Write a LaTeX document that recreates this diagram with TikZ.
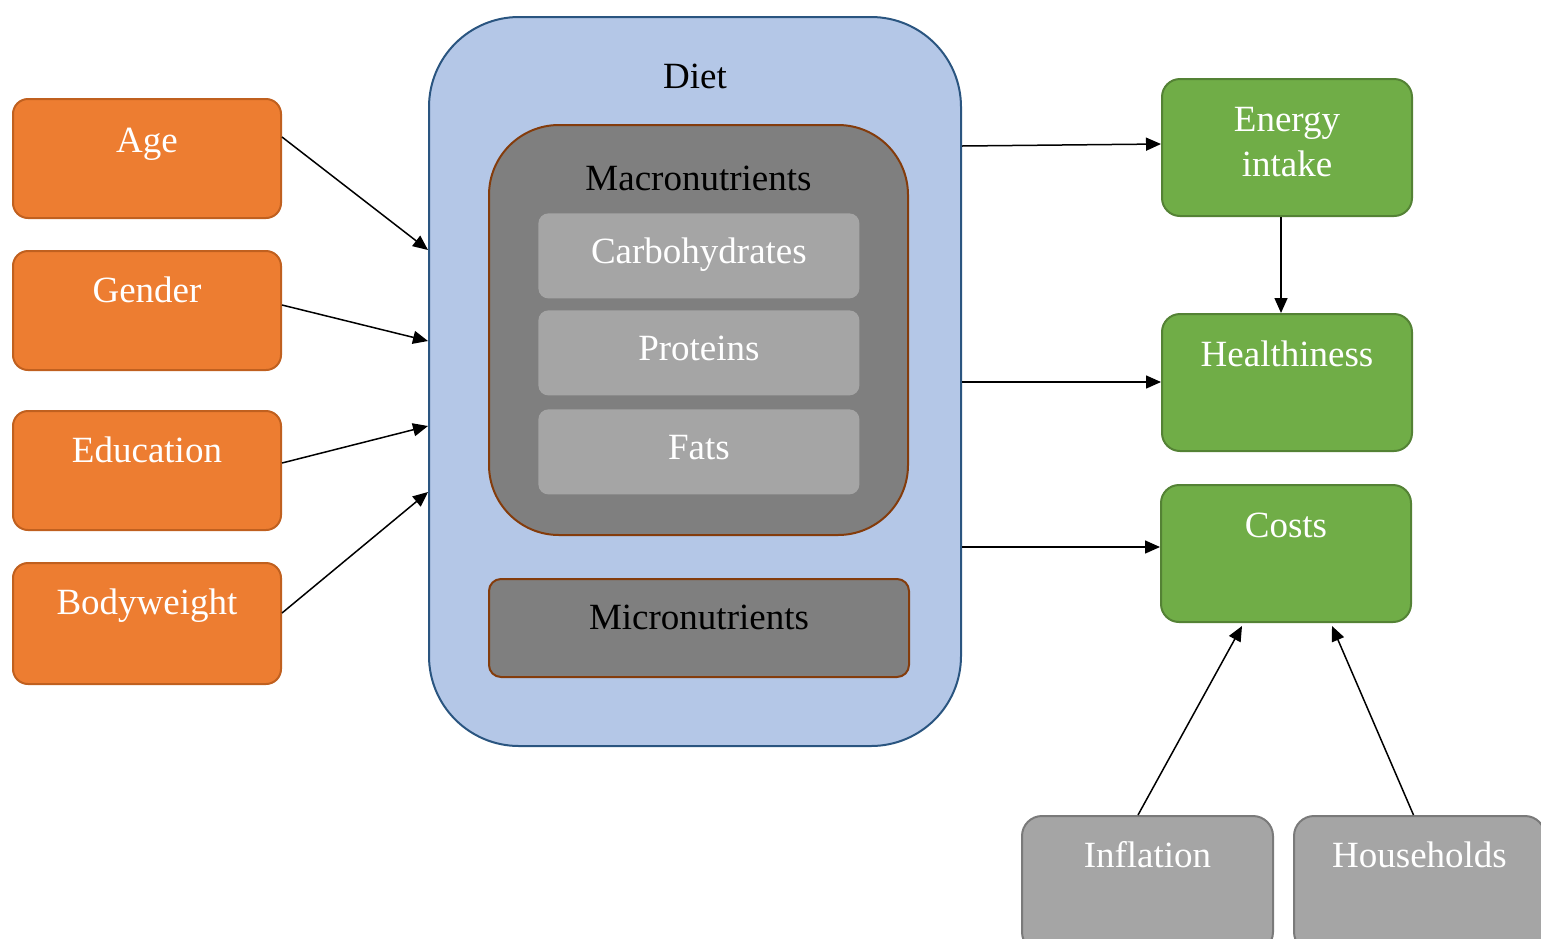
\documentclass[tikz,border=0pt]{standalone}
\usepackage{fontspec}
\setmainfont{Liberation Serif}
\usetikzlibrary{arrows.meta,calc,shadows}

\definecolor{orangefill}{HTML}{ED7D31}
\definecolor{orangeline}{HTML}{C0601F}
\definecolor{dietfill}{HTML}{B4C7E7}
\definecolor{dietline}{HTML}{2A5580}
\definecolor{darkgrey}{HTML}{7F7F7F}
\definecolor{brownline}{HTML}{843C0C}
\definecolor{lightgrey}{HTML}{A5A5A5}
\definecolor{greenfill}{HTML}{70AD47}
\definecolor{greenline}{HTML}{548235}
\definecolor{greyline}{HTML}{7A7A7A}

\tikzset{
  box/.style={draw, anchor=north west, inner sep=0pt, line width=1pt},
  factor/.style={box, fill=orangefill, draw=orangeline, rounded corners=7.5pt,
                 minimum width=134pt, minimum height=59.5pt},
  outcome/.style={box, fill=greenfill, draw=greenline, rounded corners=9pt,
                  minimum width=125pt, minimum height=68.5pt},
  driver/.style={box, fill=lightgrey, draw=greyline, rounded corners=10pt,
                 minimum width=125.5pt, minimum height=68pt},
  nutrient/.style={anchor=north west, fill=lightgrey, rounded corners=5pt,
                   minimum width=160.5pt, minimum height=42.5pt, inner sep=0pt,
                   text=white, text height=13pt, text depth=5.9pt,
                   drop shadow={opacity=0.18, shadow xshift=0.4pt, shadow yshift=-0.8pt}},
  lbl/.style={anchor=center, inner sep=0pt, align=center},
  wlbl/.style={lbl, text=white},
  link/.style={line width=0.75pt, -{Triangle[length=7.5pt,width=6.5pt]}},
}

\begin{document}
\begin{tikzpicture}[x=0.5pt, y=-0.5pt, font=\fontsize{18.5}{22.5}\selectfont]
  \useasboundingbox (0,0) rectangle (1541,938);
  \clip (0,0) rectangle (1541,938);

  % influencing factors
  \node[factor, label={[wlbl, yshift=-23pt]north:Age}] (age) at (12,98) {};
  \node[factor, label={[wlbl, yshift=-20pt]north:Gender}] (gender) at (12,250) {};
  \node[factor, label={[wlbl, yshift=-20pt]north:Education}] (edu) at (12,410) {};
  \node[factor, minimum height=60.5pt, label={[wlbl, yshift=-22pt]north:Bodyweight}] (body) at (12,562) {};

  % diet container
  \node[box, fill=dietfill, draw=dietline, rounded corners=45pt,
        minimum width=266pt, minimum height=364.5pt,
        label={[lbl, yshift=-30pt]north:Diet}] (diet) at (428,16) {};
  \node[box, fill=darkgrey, draw=brownline, rounded corners=35pt,
        minimum width=209.5pt, minimum height=205pt,
        label={[lbl, yshift=-27pt]north:Macronutrients}] (macro) at (488,124) {};
  \node[nutrient] (carb) at (538,213) {Carbohydrates};
  \node[nutrient] (prot) at (538,310) {Proteins};
  \node[nutrient] (fats) at (538,409) {Fats};
  \node[box, fill=darkgrey, draw=brownline, rounded corners=6pt,
        minimum width=210pt, minimum height=49pt,
        label={[lbl, yshift=-19.5pt]north:Micronutrients}] (micro) at (488,578) {};

  % outcomes
  \node[outcome, label={[wlbl, yshift=-32.25pt]north:{Energy\\intake}}] (energy) at (1161,78) {};
  \node[outcome, label={[wlbl, yshift=-20.5pt]north:Healthiness}] (health) at (1161,313) {};
  \node[outcome, label={[wlbl, yshift=-20.5pt]north:Costs}] (costs) at (1160,484) {};

  % cost drivers
  \node[driver, label={[wlbl, yshift=-20pt]north:Inflation}] (infl) at (1021,815) {};
  \node[driver, label={[wlbl, yshift=-20pt]north:Households}] (house) at (1293,815) {};

  % connections
  \draw[link] ([yshift=-19.5pt]age.north east) -- ([yshift=-117pt]diet.north west);
  \draw[link] ([yshift=-27.5pt]gender.north east) -- ([yshift=-162.5pt]diet.north west);
  \draw[link] ([yshift=-26.5pt]edu.north east) -- ([yshift=-205pt]diet.north west);
  \draw[link] ([yshift=-25.5pt]body.north east) -- ([yshift=-238pt]diet.north west);

  \draw[link] ([yshift=-65pt]diet.north east) -- ([yshift=-33pt]energy.north west);
  \draw[link] ([xshift=-3pt]energy.south) -- ([xshift=-3pt]health.north);
  \draw[link] ([yshift=-183pt]diet.north east) -- ([yshift=-34.5pt]health.north west);
  \draw[link] ([yshift=-265.5pt]diet.north east) -- ([yshift=-31.5pt]costs.north west);

  \draw[link] ([xshift=-4.75pt]infl.north) -- ([xshift=-22pt,yshift=-1.5pt]costs.south);
  \draw[link] ([xshift=-3pt]house.north) -- ([xshift=23pt,yshift=-1.5pt]costs.south);
\end{tikzpicture}
\end{document}
